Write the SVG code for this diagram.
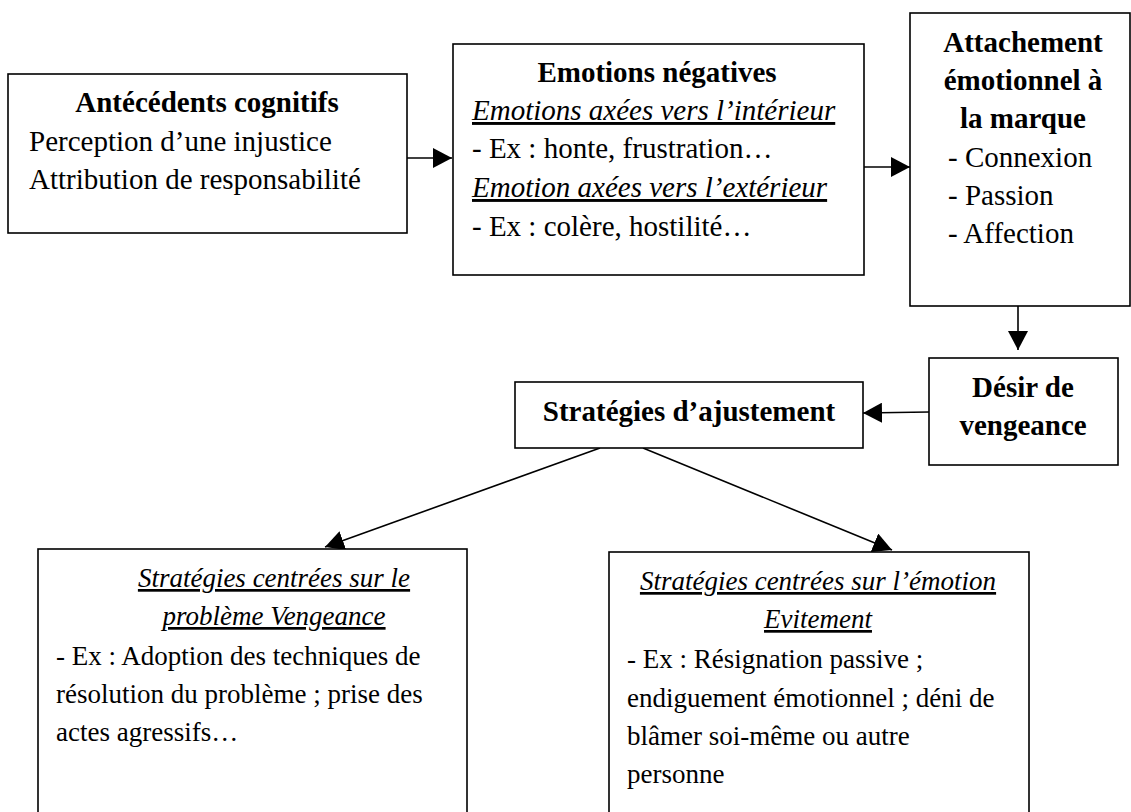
<svg xmlns="http://www.w3.org/2000/svg" width="1131" height="812" viewBox="0 0 1131 812">
<style>
.box{fill:#fff;stroke:#000;stroke-width:1.6}
.t{font-family:"Liberation Serif","Times New Roman",serif;font-size:29px;fill:#000}
.s{font-size:27px}
.b{font-weight:bold}
.c{text-anchor:middle}
.iu{font-style:italic;text-decoration:underline}
.con{stroke:#000;stroke-width:1.6;fill:none}
</style>
<defs>
<marker id="ah" markerUnits="userSpaceOnUse" markerWidth="19" markerHeight="20" refX="19" refY="10" orient="auto" viewBox="0 0 19 20">
<path d="M0,0 L19,10 L0,20 z" fill="#000"/>
</marker>
</defs>
<rect width="1131" height="812" fill="#fff"/>
<g id="connectors">
<line class="con" x1="407" y1="158" x2="452" y2="158" marker-end="url(#ah)"/>
<line class="con" x1="864" y1="167" x2="910" y2="167" marker-end="url(#ah)"/>
<line class="con" x1="1018" y1="306" x2="1018" y2="350" marker-end="url(#ah)"/>
<line class="con" x1="929" y1="412" x2="863" y2="413" marker-end="url(#ah)"/>
<line class="con" x1="600" y1="448" x2="325" y2="547" marker-end="url(#ah)"/>
<line class="con" x1="643" y1="448" x2="892" y2="550" marker-end="url(#ah)"/>
</g>
<g id="antecedents">
<rect class="box" x="8" y="74" width="399" height="159"/>
<text class="t b c" x="207" y="112">Antécédents cognitifs</text>
<text class="t" x="29" y="151">Perception d’une injustice</text>
<text class="t" x="29" y="189">Attribution de responsabilité</text>
</g>
<g id="emotions">
<rect class="box" x="453" y="44" width="411" height="231"/>
<text class="t b c" x="657" y="82">Emotions négatives</text>
<text class="t iu" x="472" y="120">Emotions axées vers l’intérieur</text>
<text class="t" x="472" y="158">- Ex : honte, frustration…</text>
<text class="t iu" x="472" y="197">Emotion axées vers l’extérieur</text>
<text class="t" x="472" y="236">- Ex : colère, hostilité…</text>
</g>
<g id="attachement">
<rect class="box" x="910" y="13" width="220" height="293"/>
<text class="t b c" x="1023" y="52">Attachement</text>
<text class="t b c" x="1023" y="90">émotionnel à</text>
<text class="t b c" x="1023" y="128">la marque</text>
<text class="t" x="948" y="167">- Connexion</text>
<text class="t" x="948" y="205">- Passion</text>
<text class="t" x="948" y="243">- Affection</text>
</g>
<g id="desir">
<rect class="box" x="929" y="358" width="189" height="107"/>
<text class="t b c" x="1023" y="397">Désir de</text>
<text class="t b c" x="1023" y="435">vengeance</text>
</g>
<g id="strategies">
<rect class="box" x="515" y="382" width="348" height="66"/>
<text class="t b c" x="689" y="421">Stratégies d’ajustement</text>
</g>
<g id="probleme">
<rect class="box" x="38" y="549" width="429" height="275"/>
<text class="t s iu c" x="274" y="587">Stratégies centrées sur le</text>
<text class="t s iu c" x="274" y="625">problème Vengeance</text>
<text class="t s" x="56" y="665">- Ex : Adoption des techniques de</text>
<text class="t s" x="56" y="703">résolution du problème ; prise des</text>
<text class="t s" x="56" y="741">actes agressifs…</text>
</g>
<g id="emotion-strat">
<rect class="box" x="609" y="552" width="420" height="275"/>
<text class="t s iu c" x="818" y="590">Stratégies centrées sur l’émotion</text>
<text class="t s iu c" x="818" y="628">Evitement</text>
<text class="t s" x="627" y="668">- Ex : Résignation passive ;</text>
<text class="t s" x="627" y="707">endiguement émotionnel ; déni de</text>
<text class="t s" x="627" y="745">blâmer soi-même ou autre</text>
<text class="t s" x="627" y="783">personne</text>
</g>
</svg>
